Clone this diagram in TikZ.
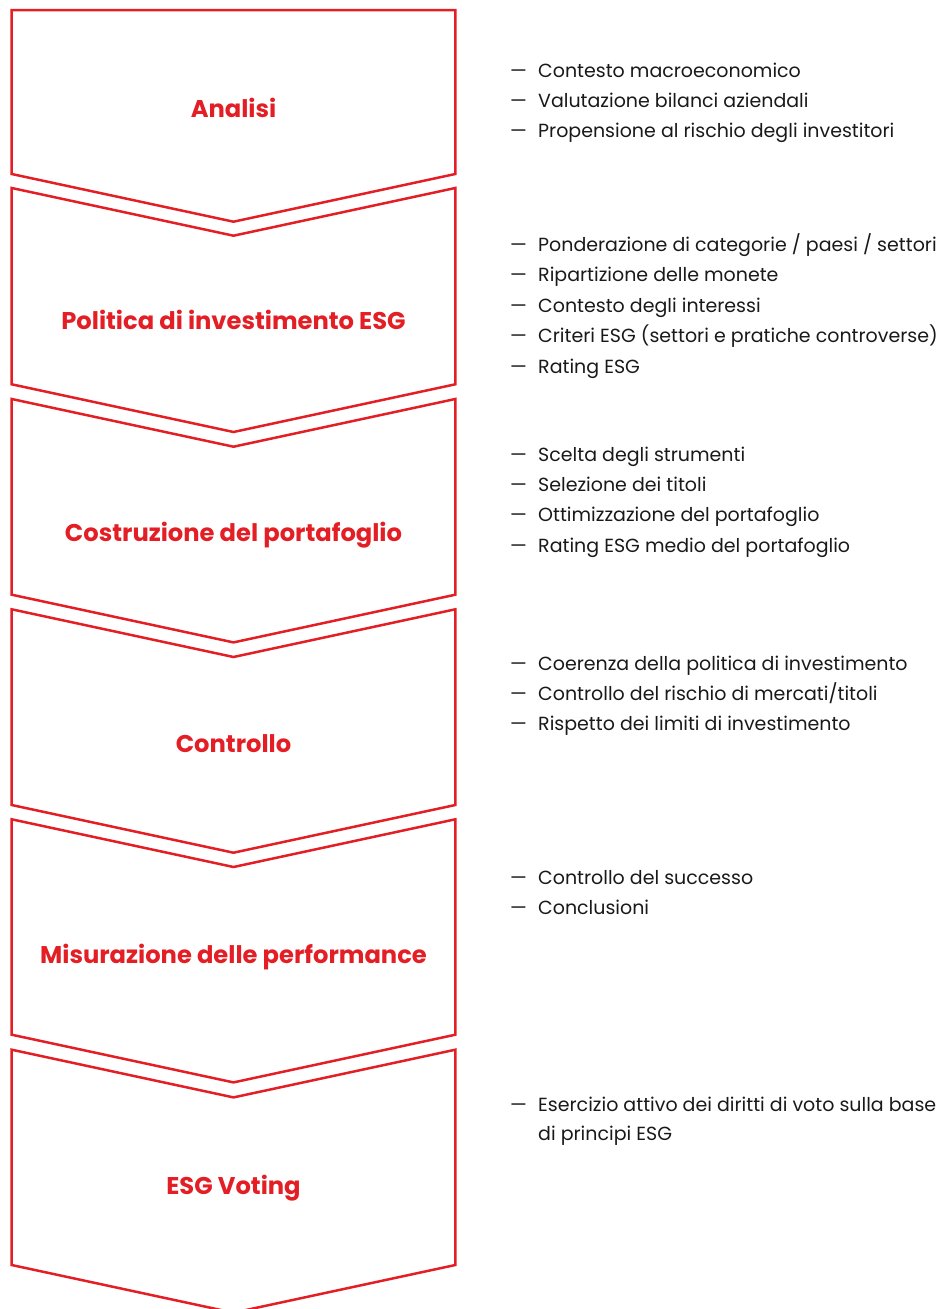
\documentclass[tikz,border=0pt]{standalone}
\usepackage{fontspec}
\setmainfont{Poppins}
\definecolor{esgred}{RGB}{227,30,36}
\definecolor{txtgray}{RGB}{25,25,25}
\tikzset{
  chev/.style={draw=esgred, line width=2.5pt, line join=miter},
  steplabel/.style={anchor=base, text=esgred, font=\fontsize{24.2}{28}\selectfont\bfseries, inner sep=0pt},
  itemdash/.style={anchor=base west, text=txtgray, font=\fontsize{19}{22}\selectfont, inner sep=0pt},
  itemtext/.style={anchor=base west, text=txtgray, font=\fontsize{19}{22}\selectfont, inner sep=0pt},
}
\newcommand{\itm}[3]{%
  \node[itemdash] (#1d) at (510,#2) {—};
  \node[itemtext] (#1) at (538,#2) {#3};
}
\begin{document}
\begin{tikzpicture}[x=1pt,y=-1pt]
\useasboundingbox (0,0) rectangle (939,1309);
% shapes
\def\chXl{11.7}\def\chXr{455.3}\def\chXm{233.5}\def\chDp{47.7}
\draw[chev] (\chXl,10) -- (\chXr,10) -- (\chXr,174) -- (\chXm,174+\chDp) -- (\chXl,174) -- cycle;
\foreach \t/\b in {188/384.3, 399/594.7, 609.3/805, 819.3/1034.7, 1049.7/1265}{
  \draw[chev] (\chXl,\t) -- (\chXm,\t+\chDp) -- (\chXr,\t) -- (\chXr,\b) -- (\chXm,\b+\chDp) -- (\chXl,\b) -- cycle;
}
% labels
\node[steplabel] (l1) at (\chXm,117.3) {Analisi};
\node[steplabel] (l2) at (\chXm,329) {Politica di investimento ESG};
\node[steplabel] (l3) at (\chXm,541) {Costruzione del portafoglio};
\node[steplabel] (l4) at (\chXm,752) {Controllo};
\node[steplabel] (l5) at (\chXm,963) {Misurazione delle performance};
\node[steplabel] (l6) at (\chXm,1194) {ESG Voting};
% items
\itm{a1}{77}{Contesto macroeconomico}
\itm{a2}{107}{Valutazione bilanci aziendali}
\itm{a3}{137}{Propensione al rischio degli investitori}
\itm{b1}{251}{Ponderazione di categorie / paesi / settori}
\itm{b2}{281}{Ripartizione delle monete}
\itm{b3}{312}{Contesto degli interessi}
\itm{b4}{342}{Criteri ESG (settori e pratiche controverse)}
\itm{b5}{373}{Rating ESG}
\itm{c1}{461}{Scelta degli strumenti}
\itm{c2}{491}{Selezione dei titoli}
\itm{c3}{521}{Ottimizzazione del portafoglio}
\itm{c4}{552}{Rating ESG medio del portafoglio}
\itm{d1}{670}{Coerenza della politica di investimento}
\itm{d2}{700}{Controllo del rischio di mercati/titoli}
\itm{d3}{730}{Rispetto dei limiti di investimento}
\itm{e1}{884}{Controllo del successo}
\itm{e2}{914}{Conclusioni}
\itm{f1}{1111}{Esercizio attivo dei diritti di voto sulla base}
\node[itemtext] (f2) at (538,1140) {di principi ESG};
\end{tikzpicture}
\end{document}
